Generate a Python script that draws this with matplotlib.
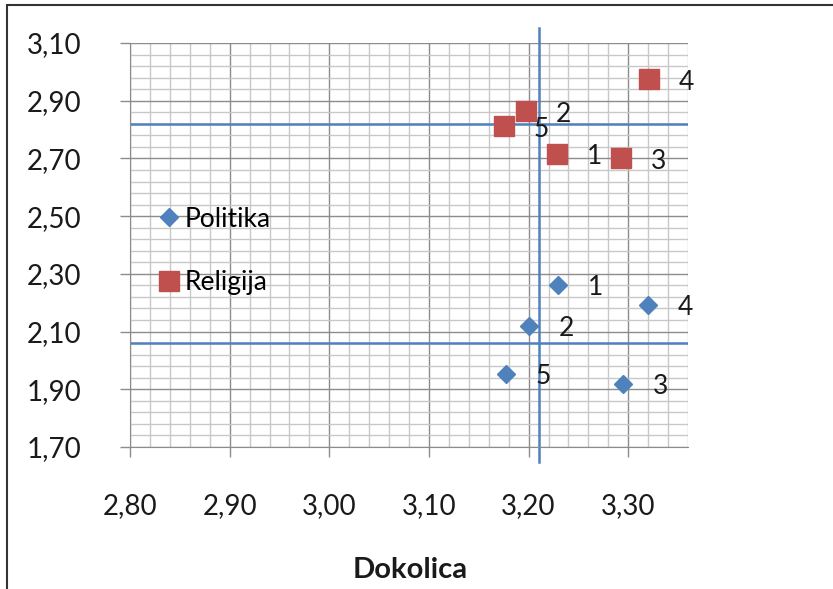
import numpy as np
import matplotlib.pyplot as plt
from matplotlib.ticker import FixedLocator, FuncFormatter
from matplotlib.patches import Rectangle

plt.rcParams['font.family'] = ['Lato', 'DejaVu Sans']

# Dokolica (x) shared by both series, point labels 1..5
labels = ['1', '2', '3', '4', '5']
dokolica = [3.23, 3.20, 3.295, 3.32, 3.177]
politika = [2.263, 2.12, 1.918, 2.192, 1.954]
religija_x = [3.229, 3.197, 3.293, 3.321, 3.175]
religija = [2.716, 2.863, 2.70, 2.974, 2.811]

x_ticks = [2.80, 2.90, 3.00, 3.10, 3.20, 3.30]
y_ticks = [1.70, 1.90, 2.10, 2.30, 2.50, 2.70, 2.90, 3.10]

# reference lines
ref_x = 3.21
ref_y_religija = 2.82
ref_y_politika = 2.06

blue = '#4F81BD'
red = '#C0504D'

fig = plt.figure(figsize=(8.33, 5.89), dpi=100)
ax = fig.add_axes([130 / 833, 1 - 447 / 589, 558 / 833, 404 / 589])

ax.set_xlim(2.80, 3.36)
ax.set_ylim(1.70, 3.10)

# grid like Excel: major + minor lines
ax.xaxis.set_major_locator(FixedLocator(x_ticks))
ax.xaxis.set_minor_locator(FixedLocator(np.arange(2.80, 3.361, 0.02)))
ax.yaxis.set_major_locator(FixedLocator(y_ticks))
ax.yaxis.set_minor_locator(FixedLocator(np.arange(1.70, 3.101, 0.04)))
ax.grid(which='minor', color='#c8c8c8', lw=1.0)
ax.grid(which='major', color='#8c8c8c', lw=1.0)
ax.set_axisbelow(True)

fmt = FuncFormatter(lambda v, p: f'{v:.2f}'.replace('.', ','))
ax.xaxis.set_major_formatter(fmt)
ax.yaxis.set_major_formatter(fmt)
ax.tick_params(which='major', length=7, width=1, color='#8c8c8c',
               labelsize=20, labelcolor='#1a1a1a', direction='out')
ax.tick_params(axis='x', pad=26)
ax.tick_params(axis='y', pad=28)
ax.tick_params(which='minor', length=0)
for s in ['top', 'right']:
    ax.spines[s].set_visible(False)
for s in ['left', 'bottom']:
    ax.spines[s].set_color('#8c8c8c')

# reference lines
ax.plot([ref_x, ref_x], [1.648, 3.152], color=blue, lw=1.8, clip_on=False, zorder=2)
ax.plot([2.80, 3.36], [ref_y_religija, ref_y_religija], color=blue, lw=1.8, zorder=2)
ax.plot([2.80, 3.36], [ref_y_politika, ref_y_politika], color=blue, lw=1.8, zorder=2)

ax.plot(dokolica, politika, 'D', color=blue, ms=9.5, mec=blue, label='Politika',
        zorder=3, clip_on=False)
ax.plot(religija_x, religija, 's', color=red, ms=14, mec=red, label='Religija',
        zorder=3, clip_on=False)

for x, y, t in zip(dokolica, politika, labels):
    ax.annotate(t, (x, y), xytext=(27, -2), textcoords='offset points',
                ha='center', va='center', fontsize=19, color='#1a1a1a')
for x, y, t in zip(religija_x, religija, labels):
    ax.annotate(t, (x, y), xytext=(27, -2), textcoords='offset points',
                ha='center', va='center', fontsize=19, color='#1a1a1a')

leg = ax.legend(loc='upper left', bbox_to_anchor=(0.048, 0.595), frameon=False,
                fontsize=19, handlelength=0.9, handletextpad=0.15,
                labelspacing=1.45, borderpad=0, borderaxespad=0)

fig.text(410 / 833, 1 - 570 / 589, 'Dokolica', ha='center', va='center',
         fontsize=21, fontweight='bold', color='#1a1a1a')

# chart area frame (only top and left visible in crop)
fig.add_artist(Rectangle((7 / 833, -0.1), 1.2, 1 - 5 / 589 + 0.1,
                         transform=fig.transFigure, fill=False,
                         edgecolor='#333333', lw=1.5))

fig.savefig('out.png', dpi=100)
